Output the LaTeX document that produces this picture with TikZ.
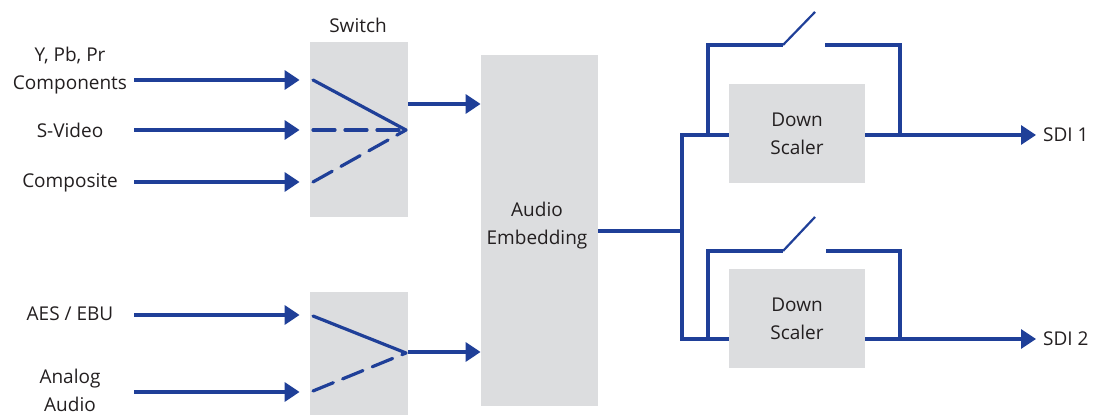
\documentclass[tikz,border=0pt]{standalone}
\usepackage{fontspec}
\setmainfont{Open Sans}
\usetikzlibrary{arrows.meta}
\definecolor{sigblue}{HTML}{1F3F98}
\definecolor{boxgray}{HTML}{DCDDDF}
\definecolor{txtgray}{HTML}{231F20}
\begin{document}
\begin{tikzpicture}
  [x=0.5pt,y=-0.5pt,
   block/.style={fill=boxgray,inner sep=0pt,text=txtgray,align=center,font=\fontsize{9.5}{14}\selectfont},
   lbl/.style={text=txtgray,align=center,font=\fontsize{9.5}{14}\selectfont},
   sig/.style={draw=sigblue,line width=1.7pt},
   arr/.style={sig,-{Triangle[length=7.5pt,width=9.5pt]}},
   lever/.style={draw=sigblue,line width=1.6pt,line cap=round},
   dsh/.style={lever,dash pattern=on 11pt off 5pt},
   blade/.style={draw=sigblue,line width=1.1pt}]
  \useasboundingbox (0,0) rectangle (1093,415);

  \node (sw1) at (359,129.5) [block,minimum width=49pt,minimum height=87.5pt] {};
  \node (sw2) at (359,354) [block,minimum width=49pt,minimum height=62pt] {};
  \node (emb) at (539.5,230.5) [block,minimum width=58.5pt,minimum height=175.5pt] {};
  \node (embtxt) at (537,226) [lbl] {Audio\\Embedding};
  \node (ds1) at (797,133.5) [block,minimum width=68pt,minimum height=49.5pt] {Down\\Scaler};
  \node (ds2) at (797,318.5) [block,minimum width=68pt,minimum height=49.5pt] {Down\\Scaler};
  \node (swlbl) at (358,25) [lbl] {Switch};

  \node (ypbpr) at (70,71) [lbl] {Y, Pb, Pr\\Components};
  \node (svideo) at (70,130) [lbl] {S-Video};
  \node (comp) at (70,183) [lbl] {Composite};
  \node (aes) at (70,314) [lbl] {AES / EBU};
  \node (analog) at (70,390) [lbl] {Analog\\Audio};
  \node (sdi1) at (1036,135) [lbl,anchor=west] {SDI 1};
  \node (sdi2) at (1036,339) [lbl,anchor=west] {SDI 2};

  \coordinate (in1) at (134,80);
  \coordinate (in2) at (134,130);
  \coordinate (in3) at (134,182);
  \coordinate (in4) at (134,315);
  \coordinate (in5) at (134,392);
  \draw [arr,shorten >=5pt] (in1) -- (in1 -| sw1.west);
  \draw [arr,shorten >=5pt] (in2) -- (in2 -| sw1.west);
  \draw [arr,shorten >=5pt] (in3) -- (in3 -| sw1.west);
  \draw [arr,shorten >=5pt] (in4) -- (in4 -| sw2.west);
  \draw [arr,shorten >=5pt] (in5) -- (in5 -| sw2.west);

  % video switch
  \coordinate (p1) at (406,130);
  \draw [lever] (313,80) -- (p1);
  \draw [dsh] (313,130) -- (p1);
  \draw [dsh] (313,182) -- (p1);
  \coordinate (o1) at (408,104);
  \draw [arr] (o1) -- (o1 -| emb.west);

  % audio switch
  \coordinate (p2) at (406,353);
  \draw [lever] (313,316) -- (p2);
  \draw [dsh] (313,391) -- (p2);
  \coordinate (o2) at (408,352);
  \draw [arr] (o2) -- (o2 -| emb.west);

  \coordinate (split) at (682,231);
  \coordinate (t1) at (682,135);
  \coordinate (t2) at (682,339);
  \draw [sig] (emb.east |- split) -- (split);
  \draw [sig] (t1 -| ds1.west) -- (t1) -- (t2) -- (t2 -| ds2.west);
  \draw [arr] (ds1.east |- t1) -- (sdi1.west);
  \draw [arr] (ds2.east |- t2) -- (sdi2.west);

  % bypass switches
  \coordinate (sa1) at (783,45);
  \coordinate (sb1) at (825,45);
  \draw [sig] (708,135) |- (sa1);
  \draw [blade] (sa1) -- ++(32,-33);
  \draw [sig] (sb1) -| (900,135);
  \coordinate (sa2) at (783,251);
  \coordinate (sb2) at (826,251);
  \draw [sig] (708,339) |- (sa2);
  \draw [blade] (sa2) -- ++(32,-34);
  \draw [sig] (sb2) -| (900,339);
\end{tikzpicture}
\end{document}
